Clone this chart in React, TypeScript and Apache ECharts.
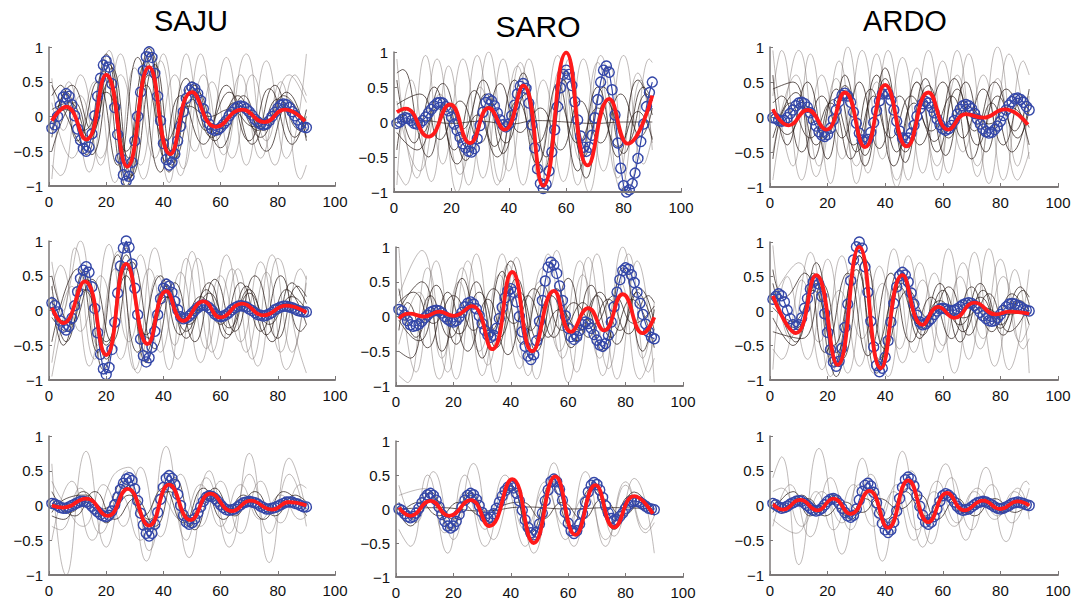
import React, { useEffect, useRef } from "react";
import * as echarts from "echarts";

const TITLES = ["SAJU", "SARO", "ARDO"];
const X_TICKS = [0, 20, 40, 60, 80, 100];
const Y_TICKS = [-1, -0.5, 0, 0.5, 1];

// ---------- blue circles (x = 1..90) ----------
const BLUE_1 = [-0.17,-0.12,0.0,0.16,0.28,0.33,0.29,0.17,0.01,-0.18,-0.34,-0.46,-0.5,-0.44,-0.25,0.01,0.29,0.55,0.74,0.8,0.71,0.47,0.13,-0.26,-0.6,-0.84,-0.93,-0.86,-0.66,-0.35,0.0,0.35,0.66,0.86,0.93,0.85,0.62,0.29,-0.06,-0.39,-0.62,-0.7,-0.66,-0.54,-0.35,-0.14,0.07,0.26,0.38,0.42,0.40,0.33,0.23,0.11,-0.01,-0.11,-0.18,-0.2,-0.19,-0.16,-0.11,-0.06,0.01,0.06,0.11,0.14,0.15,0.14,0.11,0.07,0.02,-0.04,-0.08,-0.11,-0.12,-0.11,-0.06,0.0,0.06,0.12,0.16,0.18,0.17,0.13,0.07,0.01,-0.05,-0.11,-0.15,-0.16];
const BLUE_2 = [-0.02,0.0,0.04,0.06,0.05,0.02,-0.02,-0.03,-0.02,0.02,0.07,0.13,0.18,0.23,0.27,0.28,0.27,0.22,0.16,0.07,-0.03,-0.12,-0.22,-0.31,-0.37,-0.42,-0.43,-0.38,-0.24,-0.05,0.14,0.28,0.33,0.30,0.23,0.13,0.03,-0.04,-0.07,-0.03,0.09,0.24,0.40,0.51,0.55,0.48,0.27,-0.04,-0.37,-0.67,-0.88,-0.95,-0.89,-0.70,-0.43,-0.11,0.22,0.49,0.68,0.74,0.68,0.52,0.29,0.03,-0.2,-0.36,-0.42,-0.36,-0.19,0.06,0.32,0.57,0.74,0.8,0.71,0.46,0.10,-0.30,-0.66,-0.91,-1.0,-0.97,-0.88,-0.73,-0.52,-0.28,-0.03,0.22,0.42,0.57];
const BLUE_3 = [-0.01,-0.02,-0.05,-0.06,-0.05,-0.01,0.05,0.10,0.16,0.20,0.21,0.19,0.14,0.06,-0.04,-0.13,-0.21,-0.26,-0.28,-0.25,-0.16,-0.04,0.10,0.22,0.31,0.34,0.30,0.21,0.07,-0.09,-0.23,-0.33,-0.36,-0.32,-0.22,-0.08,0.09,0.23,0.33,0.37,0.33,0.24,0.10,-0.06,-0.20,-0.30,-0.33,-0.30,-0.23,-0.12,0.01,0.12,0.19,0.22,0.20,0.14,0.06,-0.03,-0.11,-0.17,-0.19,-0.17,-0.12,-0.05,0.04,0.11,0.16,0.18,0.16,0.12,0.05,-0.03,-0.10,-0.17,-0.21,-0.23,-0.22,-0.18,-0.13,-0.06,0.02,0.10,0.17,0.22,0.26,0.27,0.25,0.21,0.15,0.1];
const BLUE_4 = [0.11,0.07,-0.02,-0.15,-0.24,-0.28,-0.23,-0.11,0.07,0.27,0.46,0.58,0.63,0.55,0.34,0.03,-0.32,-0.63,-0.84,-0.92,-0.82,-0.56,-0.17,0.25,0.64,0.90,1.0,0.91,0.67,0.32,-0.06,-0.41,-0.65,-0.74,-0.68,-0.53,-0.30,-0.06,0.17,0.32,0.38,0.35,0.26,0.13,0.01,-0.09,-0.12,-0.11,-0.08,-0.04,0.0,0.04,0.07,0.08,0.07,0.04,0.0,-0.05,-0.08,-0.09,-0.08,-0.06,-0.03,0.01,0.04,0.06,0.07,0.06,0.05,0.02,0.0,-0.03,-0.06,-0.07,-0.08,-0.07,-0.05,-0.03,0.01,0.03,0.05,0.06,0.06,0.05,0.04,0.02,0.0,-0.01,-0.02,-0.02];
const BLUE_5 = [0.1,0.08,0.02,-0.06,-0.12,-0.14,-0.13,-0.11,-0.07,-0.02,0.02,0.06,0.08,0.09,0.08,0.05,0.0,-0.04,-0.07,-0.08,-0.06,-0.01,0.06,0.14,0.19,0.21,0.18,0.11,0.01,-0.10,-0.20,-0.27,-0.3,-0.27,-0.17,-0.03,0.13,0.27,0.37,0.4,0.35,0.21,0.0,-0.22,-0.43,-0.57,-0.62,-0.55,-0.35,-0.07,0.23,0.51,0.71,0.78,0.74,0.62,0.44,0.23,0.01,-0.17,-0.29,-0.33,-0.29,-0.2,-0.12,-0.08,-0.10,-0.17,-0.26,-0.34,-0.41,-0.43,-0.39,-0.27,-0.08,0.14,0.35,0.53,0.66,0.7,0.68,0.60,0.49,0.35,0.19,0.03,-0.11,-0.22,-0.30,-0.32];
const BLUE_6 = [0.17,0.21,0.25,0.22,0.13,0.01,-0.11,-0.20,-0.23,-0.20,-0.10,0.04,0.18,0.32,0.42,0.45,0.39,0.21,-0.04,-0.31,-0.56,-0.74,-0.8,-0.73,-0.54,-0.24,0.1,0.44,0.74,0.93,1.0,0.91,0.64,0.27,-0.15,-0.52,-0.79,-0.88,-0.83,-0.67,-0.43,-0.16,0.11,0.35,0.51,0.56,0.52,0.42,0.26,0.10,-0.06,-0.16,-0.2,-0.19,-0.15,-0.11,-0.05,0.0,0.03,0.04,0.03,0.01,0.0,0.01,0.03,0.06,0.09,0.11,0.12,0.11,0.08,0.04,-0.02,-0.07,-0.11,-0.14,-0.15,-0.14,-0.10,-0.05,0.01,0.06,0.10,0.11,0.10,0.08,0.06,0.03,0.01,0.0];
const BLUE_7 = [0.03,0.02,0.0,-0.03,-0.04,-0.04,-0.02,0.0,0.02,0.04,0.06,0.06,0.05,0.03,-0.01,-0.05,-0.09,-0.13,-0.15,-0.16,-0.14,-0.08,0.01,0.12,0.23,0.32,0.38,0.4,0.36,0.24,0.07,-0.11,-0.28,-0.40,-0.44,-0.40,-0.27,-0.10,0.09,0.26,0.39,0.43,0.39,0.30,0.16,0.0,-0.14,-0.24,-0.27,-0.25,-0.19,-0.11,-0.02,0.06,0.12,0.14,0.13,0.10,0.06,0.01,-0.03,-0.06,-0.07,-0.06,-0.05,-0.02,0.01,0.04,0.05,0.06,0.05,0.04,0.02,-0.01,-0.03,-0.05,-0.05,-0.04,-0.03,-0.01,0.01,0.03,0.05,0.05,0.05,0.03,0.02,0.0,-0.02,-0.02];
const BLUE_8 = [0.0,-0.02,-0.07,-0.11,-0.13,-0.11,-0.06,0.01,0.09,0.16,0.21,0.23,0.20,0.13,0.03,-0.08,-0.18,-0.25,-0.28,-0.25,-0.18,-0.08,0.03,0.13,0.20,0.23,0.21,0.14,0.05,-0.05,-0.12,-0.14,-0.12,-0.07,0.01,0.10,0.19,0.27,0.32,0.34,0.31,0.23,0.12,-0.02,-0.16,-0.27,-0.35,-0.38,-0.34,-0.22,-0.06,0.12,0.28,0.40,0.44,0.40,0.29,0.13,-0.05,-0.21,-0.32,-0.36,-0.32,-0.22,-0.07,0.10,0.25,0.35,0.39,0.36,0.28,0.17,0.05,-0.06,-0.14,-0.17,-0.16,-0.11,-0.06,0.01,0.06,0.11,0.12,0.11,0.10,0.07,0.04,0.01,0.0,-0.01];
const BLUE_9 = [0.03,0.01,-0.02,-0.04,-0.03,-0.01,0.02,0.04,0.06,0.07,0.06,0.03,0.0,-0.04,-0.07,-0.08,-0.07,-0.04,0.01,0.06,0.09,0.1,0.08,0.03,-0.04,-0.10,-0.15,-0.17,-0.14,-0.05,0.08,0.20,0.29,0.32,0.28,0.19,0.04,-0.11,-0.26,-0.35,-0.39,-0.35,-0.24,-0.08,0.10,0.26,0.37,0.41,0.38,0.28,0.14,-0.01,-0.14,-0.24,-0.27,-0.24,-0.16,-0.05,0.06,0.14,0.17,0.15,0.11,0.05,-0.01,-0.05,-0.07,-0.06,-0.05,-0.02,0.01,0.04,0.05,0.06,0.05,0.03,0.01,-0.02,-0.04,-0.05,-0.04,-0.02,0.0,0.03,0.04,0.05,0.04,0.03,0.01,0.0];

// ---------- red mean curves ([x, y] turning points) ----------
const RED_1 = [[1,-0.06],[6,0.14],[13,-0.33],[20,0.6],[27.4,-0.72],[35,0.71],[42.4,-0.54],[50,0.35],[58.4,-0.15],[67.5,0.1],[75.3,-0.08],[82.5,0.1],[89.5,-0.07]];
const RED_2 = [[1,0.14],[4,0.19],[12,-0.21],[19.5,0.25],[26.5,-0.3],[33,0.2],[38.5,-0.11],[45,0.52],[52,-0.91],[60,0.99],[67.5,-0.62],[75,0.33],[81.5,-0.31],[90,0.38]];
const RED_3 = [[1,0.11],[6.5,-0.12],[13,0.1],[19.5,-0.18],[26,0.35],[33,-0.43],[40,0.46],[47.5,-0.42],[55,0.35],[62,-0.18],[68,0.04],[74,-0.01],[81.5,0.11],[89.5,-0.11]];
const RED_4 = [[1,0.04],[5,-0.18],[12.5,0.42],[20,-0.64],[27,0.67],[34.5,-0.48],[41,0.28],[47,-0.15],[54,0.13],[60,-0.1],[67.5,0.1],[75,-0.07],[83,0.07],[90,-0.03]];
const RED_5 = [[1,-0.03],[4.5,0.04],[10,0.0],[15,0.07],[20,0.01],[26.5,0.15],[33.5,-0.47],[40.5,0.64],[47.5,-0.5],[55,0.37],[61,-0.22],[67,0.12],[72.5,-0.2],[79,0.32],[86,-0.24],[90,-0.01]];
const RED_6 = [[1,0.22],[9,-0.32],[16,0.52],[23.5,-0.78],[31,0.93],[38.5,-0.83],[46,0.52],[53,-0.2],[58.5,0.06],[64,-0.1],[71,0.12],[78.5,-0.05],[83,-0.01],[90,-0.04]];
const RED_7 = [[1,0.0],[5,-0.03],[13,0.1],[20.5,-0.15],[27.5,0.24],[35,-0.29],[42,0.3],[49.5,-0.21],[56.5,0.17],[64,-0.08],[70.5,0.07],[78,-0.06],[84,0.05],[90,0.0]];
const RED_8 = [[1,0.02],[5,-0.1],[12,0.12],[18.5,-0.1],[26,0.13],[32.5,-0.25],[40.5,0.44],[48,-0.5],[55.5,0.48],[62.5,-0.38],[69.5,0.35],[76,-0.27],[83,0.19],[89.5,-0.07]];
const RED_9 = [[1,0.02],[4.5,-0.06],[10.5,0.08],[16.5,-0.07],[22,0.1],[28,-0.12],[34.5,0.21],[41,-0.32],[48,0.36],[55,-0.24],[61.5,0.18],[67.5,-0.07],[74,0.07],[80,-0.05],[86,0.06],[90,0.0]];

// ---------- individual traces (turning points) ----------
const DARK_1 = [
  [[1,-0.3],[6,0.35],[13,-0.55],[20,0.9],[27,-1],[35,0.98],[42,-0.8],[50,0.5],[58,-0.35],[66,0.3],[74,-0.3],[82,0.3],[90,-0.2]],
  [[1,0.1],[7,0.2],[14,-0.3],[21,0.5],[28,-0.6],[35,0.6],[43,-0.5],[50,0.25],[57,-0.3],[65,0.2],[73,-0.2],[80,0.25],[88,-0.2],[90,-0.1]],
  [[1,0.3],[4,0.45],[10,-0.35],[17,0.5],[24,-0.7],[31,0.85],[39,-0.8],[46,0.3],[54,-0.4],[62,0.45],[70,-0.35],[77,0.4],[85,-0.4],[90,0.1]],
  [[1,-0.5],[9,0.2],[15,-0.55],[22,0.7],[29,-0.85],[37,0.75],[44,-0.6],[52,0.35],[60,-0.45],[68,0.3],[76,-0.5],[84,0.2],[90,-0.3]],
  [[1,0.0],[6,0.1],[12,-0.2],[20,0.35],[27,-0.5],[34,0.45],[41,-0.35],[49,0.15],[56,0.0],[63,0.1],[72,-0.15],[80,0.1],[90,-0.05]],
  [[1,0.45],[5,0.1],[12,-0.4],[19,0.65],[26,-0.8],[34,0.8],[41,-0.65],[48,0.55],[55,-0.2],[63,0.35],[71,-0.4],[79,0.45],[86,-0.3],[90,0.0]],
  [[1,-0.2],[8,0.45],[15,-0.2],[21,0.75],[28,-0.9],[36,0.9],[43,-0.7],[51,0.45],[59,-0.25],[67,0.15],[75,-0.2],[83,0.35],[90,-0.35]],
];
const LIGHT_1 = [
  [[1,-0.9],[7,0.5],[14,-0.8],[21,0.95],[28,-0.9],[35,1.0],[42,-0.95],[48,0.9],[55,-0.6],[62,0.85],[69,-0.7],[76,0.8],[83,-0.6],[90,0.9]],
  [[1,0.55],[5,-0.2],[11,0.6],[18,-0.7],[25,0.9],[32,-0.7],[39,0.8],[46,-0.85],[53,0.9],[60,-0.8],[67,0.6],[74,-0.6],[81,0.5],[88,-0.9],[90,-0.7]],
  [[1,-0.7],[4,-0.85],[11,0.3],[18,-0.6],[25,0.6],[33,-0.9],[40,0.9],[47,-0.75],[54,0.6],[61,-0.55],[69,0.9],[76,-0.35],[84,0.6],[90,0.2]],
  [[1,0.2],[8,-0.6],[16,0.5],[23,-0.95],[30,0.7],[37,-0.6],[44,0.6],[51,-0.5],[57,0.5],[64,-0.6],[71,0.6],[79,-0.7],[86,0.6],[90,0.3]],
];
const DARK_2 = [
  [[1,0.0],[10,0.02],[20,-0.02],[30,0.01],[40,-0.03],[50,0.02],[60,0.0],[70,-0.02],[80,0.0],[90,0.0]],
  [[1,0.6],[7,-0.3],[14,0.5],[21,-0.4],[28,0.45],[35,-0.35],[42,0.6],[50,-0.6],[57,0.55],[64,-0.7],[71,0.5],[78,-0.5],[85,0.6],[90,0.1]],
  [[1,-0.4],[5,0.2],[12,-0.5],[18,0.3],[25,-0.55],[32,0.4],[39,-0.3],[46,0.4],[53,-0.5],[60,0.7],[67,-0.8],[74,0.3],[81,-0.3],[88,0.4],[90,0.3]],
  [[1,0.25],[9,0.4],[16,-0.25],[23,0.3],[30,-0.3],[37,0.55],[44,-0.15],[51,0.2],[58,-0.4],[65,0.3],[72,-0.3],[79,0.4],[86,-0.2],[90,0.2]],
  [[1,0.7],[3,0.75],[10,-0.15],[17,0.55],[24,-0.1],[31,0.6],[38,-0.45],[45,0.7],[52,-0.7],[59,0.6],[66,-0.5],[73,0.5],[80,-0.45],[87,0.5],[90,0.3]],
  [[1,-0.15],[8,-0.4],[15,0.2],[22,-0.6],[29,0.1],[36,-0.5],[43,0.3],[50,-0.3],[57,0.3],[64,-0.3],[71,0.2],[78,-0.35],[85,0.15],[90,-0.25]],
];
const LIGHT_2 = [
  [[1,-0.9],[6,0.6],[13,-0.85],[19,0.8],[26,-0.9],[33,1.0],[40,-0.7],[47,0.9],[54,-0.95],[61,0.9],[68,-1.0],[75,0.8],[82,-0.9],[89,0.9],[90,0.85]],
  [[1,0.9],[8,-0.8],[15,0.9],[22,-1.0],[29,0.95],[36,-0.9],[43,0.8],[50,-0.6],[57,0.95],[64,-0.9],[71,0.85],[78,-0.8],[85,0.7],[90,-0.3]],
  [[1,-0.7],[4,-0.9],[11,0.95],[17,-0.6],[24,0.9],[31,-0.8],[38,0.9],[45,-0.9],[52,0.6],[59,-0.85],[66,0.9],[73,-0.7],[80,0.95],[87,-0.6],[90,-0.2]],
  [[1,0.3],[9,-0.7],[16,0.4],[23,-0.75],[30,0.5],[37,-0.85],[44,0.85],[51,-0.85],[58,0.75],[65,-0.55],[72,0.95],[79,-0.95],[86,0.6],[90,-0.4]],
];
const DARK_3 = [
  [[1,0.6],[6,-0.4],[13,0.5],[20,-0.6],[26,0.6],[33,-0.7],[40,0.7],[47,-0.65],[54,0.55],[61,-0.55],[68,0.5],[75,-0.5],[82,0.4],[90,-0.4]],
  [[1,-0.3],[9,0.35],[16,-0.4],[23,0.4],[30,-0.5],[37,0.6],[44,-0.5],[51,0.5],[58,-0.5],[65,0.4],[72,-0.4],[79,0.3],[86,-0.3],[90,0.1]],
  [[1,0.2],[4,0.3],[11,-0.5],[18,0.3],[25,-0.3],[31,0.5],[38,-0.45],[45,0.3],[52,-0.4],[60,0.5],[67,-0.3],[74,0.4],[81,-0.4],[88,0.3],[90,0.2]],
  [[1,-0.6],[7,0.2],[14,-0.3],[21,0.2],[28,-0.6],[35,0.4],[42,-0.3],[49,0.3],[56,-0.2],[63,0.3],[70,-0.6],[77,0.2],[84,-0.5],[90,0.2]],
  [[1,0.1],[6,-0.25],[13,0.15],[19,-0.3],[26,0.45],[33,-0.55],[40,0.55],[47,-0.5],[55,0.45],[62,-0.3],[69,0.15],[76,-0.1],[83,0.15],[90,-0.15]],
  [[1,0.4],[8,0.5],[15,-0.6],[22,0.25],[29,-0.4],[36,0.3],[43,-0.7],[50,0.2],[57,-0.35],[64,0.55],[71,-0.2],[78,0.5],[85,-0.2],[90,0.4]],
];
const LIGHT_3 = [
  [[1,0.95],[8,-0.7],[14,0.9],[21,-0.95],[27,1.0],[34,-0.8],[41,0.95],[48,-0.9],[55,0.95],[62,-0.8],[69,0.9],[76,-0.95],[83,0.9],[90,-0.6]],
  [[1,-0.9],[5,0.1],[10,0.95],[17,-0.7],[24,0.8],[30,-0.95],[37,0.9],[44,-1.0],[51,0.7],[58,-0.9],[65,0.95],[72,-0.85],[79,1.0],[86,-0.7],[90,0.3]],
  [[1,0.3],[4,0.95],[11,-0.9],[18,0.6],[25,-0.6],[32,0.95],[39,-0.6],[46,0.85],[53,-0.8],[60,0.8],[67,-0.5],[74,0.6],[81,-0.9],[88,0.8],[90,0.6]],
  [[1,-0.5],[9,0.6],[16,-0.85],[23,0.55],[30,-0.7],[37,0.5],[44,-0.9],[51,0.5],[58,-0.7],[65,0.6],[72,-0.7],[79,0.55],[86,-0.9],[90,-0.5]],
];
const DARK_4 = [
  [[1,0.2],[5,-0.5],[12,0.55],[19,-0.85],[27,0.9],[34,-0.75],[41,0.35],[48,-0.3],[55,0.3],[62,-0.4],[69,0.35],[76,-0.35],[83,0.3],[90,-0.2]],
  [[1,-0.1],[6,-0.3],[13,0.3],[20,-0.5],[27,0.6],[35,-0.4],[42,0.2],[49,-0.2],[56,0.25],[63,-0.25],[70,0.3],[77,-0.2],[85,0.2],[90,0.0]],
  [[1,0.5],[8,-0.2],[15,0.45],[22,-0.45],[29,0.7],[37,-0.55],[44,0.4],[51,-0.45],[58,0.45],[65,-0.3],[72,0.5],[80,-0.4],[87,0.35],[90,0.2]],
  [[1,-0.45],[10,0.6],[17,-0.6],[24,0.8],[31,-0.6],[39,0.5],[46,-0.35],[53,0.2],[60,-0.2],[67,0.4],[74,-0.3],[81,0.5],[88,-0.3],[90,-0.2]],
  [[1,0.05],[5,-0.15],[12,0.3],[20,-0.45],[27,0.5],[34,-0.35],[41,0.2],[48,-0.1],[55,0.05],[62,-0.1],[69,0.1],[76,-0.05],[83,0.1],[90,-0.05]],
  [[1,0.35],[6,-0.45],[13,0.45],[20,-0.7],[27,0.8],[34,-0.6],[41,0.45],[48,-0.4],[56,0.4],[63,-0.35],[70,0.25],[78,-0.45],[85,0.4],[90,0.1]],
];
const LIGHT_4 = [
  [[1,-0.95],[7,0.3],[11,1.0],[17,-0.5],[24,0.85],[31,-0.9],[38,0.5],[45,-0.7],[52,0.75],[59,-0.7],[66,0.6],[73,-0.8],[80,0.75],[87,-0.5],[90,-0.9]],
  [[1,0.7],[5,0.0],[9,0.9],[16,-0.7],[23,0.6],[30,-0.85],[37,0.9],[44,-0.5],[50,0.85],[57,-0.6],[64,0.6],[71,-0.7],[78,0.8],[85,-0.6],[90,0.5]],
  [[1,-0.75],[8,0.35],[14,-0.8],[21,0.95],[28,-0.45],[35,0.6],[42,-0.85],[48,0.75],[55,-0.55],[62,0.8],[69,-0.6],[76,0.55],[83,-0.85],[90,0.4]],
  [[1,0.3],[4,0.65],[11,-0.3],[18,0.5],[25,-0.7],[32,0.8],[39,-0.6],[46,0.55],[53,-0.75],[60,0.5],[67,-0.45],[74,0.7],[81,-0.6],[88,0.6],[90,0.45]],
];
const DARK_5 = [
  [[1,0.4],[7,-0.3],[14,0.45],[21,-0.4],[28,0.5],[35,-0.45],[42,0.55],[49,-0.5],[56,0.4],[63,-0.35],[70,0.3],[77,-0.4],[84,0.35],[90,-0.2]],
  [[1,-0.5],[5,-0.6],[12,0.3],[19,-0.3],[26,0.2],[33,-0.2],[40,0.8],[47,-0.2],[54,0.3],[61,-0.45],[68,0.45],[75,-0.3],[82,0.25],[90,-0.45]],
  [[1,0.1],[9,0.5],[16,-0.5],[23,0.55],[30,-0.6],[37,0.65],[44,-0.4],[51,0.45],[58,-0.2],[65,0.2],[72,-0.5],[79,0.7],[86,-0.5],[90,0.1]],
  [[1,-0.2],[4,0.2],[11,-0.45],[18,0.35],[25,-0.5],[32,0.25],[39,-0.55],[46,0.3],[53,-0.3],[60,0.55],[67,-0.3],[74,0.25],[81,-0.25],[88,0.3],[90,0.2]],
  [[1,0.2],[6,0.35],[13,-0.1],[20,0.3],[27,-0.2],[34,0.4],[41,-0.1],[48,0.4],[55,-0.3],[62,0.2],[69,-0.1],[76,0.3],[83,-0.1],[90,0.15]],
  [[1,-0.05],[8,-0.35],[15,0.15],[22,-0.25],[29,0.35],[36,-0.3],[43,0.35],[50,-0.35],[57,0.1],[64,-0.2],[71,0.35],[78,-0.2],[85,0.4],[90,-0.1]],
];
const LIGHT_5 = [
  [[1,1.0],[7,-0.8],[14,0.8],[21,-0.9],[28,0.9],[35,-0.95],[42,0.85],[49,-0.9],[56,0.95],[63,-0.8],[70,0.9],[77,-0.9],[84,0.8],[90,-0.95]],
  [[1,-0.85],[4,-0.95],[11,0.7],[18,-0.8],[25,0.8],[32,-0.7],[39,0.75],[46,-0.85],[53,0.9],[60,-0.95],[67,0.85],[74,-0.75],[81,0.9],[88,-0.8],[90,-0.6]],
  [[1,0.3],[9,0.95],[16,-0.6],[23,0.7],[30,-0.85],[37,0.9],[44,-0.6],[51,0.7],[58,-0.6],[65,0.6],[72,-0.85],[79,1.0],[86,-0.6],[90,0.2]],
  [[1,-0.4],[8,0.35],[15,-0.9],[22,0.5],[29,-0.5],[36,0.6],[43,-0.75],[50,0.5],[57,-0.5],[64,0.8],[71,-0.6],[78,0.5],[85,-0.9],[90,-0.3]],
];
const DARK_6 = [
  [[1,0.4],[9,-0.45],[16,0.7],[23,-0.95],[31,0.8],[38,-0.7],[46,0.4],[53,-0.35],[60,0.3],[67,-0.3],[74,0.3],[81,-0.35],[88,0.3],[90,0.2]],
  [[1,0.05],[8,-0.15],[15,0.3],[22,-0.5],[30,0.6],[37,-0.5],[45,0.35],[52,-0.2],[59,0.15],[66,-0.2],[73,0.2],[80,-0.2],[87,0.15],[90,0.0]],
  [[1,0.6],[5,0.2],[12,0.55],[19,-0.6],[27,0.55],[34,-0.65],[42,0.55],[49,-0.45],[56,0.2],[63,-0.4],[70,0.35],[77,-0.3],[84,0.25],[90,-0.2]],
  [[1,-0.3],[11,-0.4],[18,0.4],[25,-0.7],[33,0.75],[40,-0.55],[48,0.3],[55,-0.1],[62,0.35],[69,-0.35],[76,0.25],[83,-0.3],[90,0.1]],
  [[1,0.15],[9,-0.25],[16,0.4],[23,-0.6],[31,0.8],[38,-0.75],[46,0.45],[53,-0.25],[60,0.1],[67,-0.1],[74,0.05],[81,-0.05],[90,0.0]],
  [[1,-0.1],[8,-0.5],[15,0.55],[22,-0.8],[30,0.7],[37,-0.9],[45,0.6],[52,-0.4],[59,0.4],[66,-0.45],[73,0.4],[80,-0.25],[87,0.35],[90,0.1]],
];
const LIGHT_6 = [
  [[1,0.95],[7,-0.4],[14,0.85],[21,-0.95],[28,0.6],[36,-0.9],[43,0.9],[50,-0.6],[57,0.55],[64,-0.9],[71,0.85],[78,-0.8],[85,0.6],[90,-0.9]],
  [[1,-0.85],[6,0.5],[13,-0.7],[20,0.75],[27,-0.9],[34,0.55],[41,-0.95],[48,0.8],[55,-0.75],[62,0.9],[69,-0.7],[76,0.9],[83,-0.85],[90,0.6]],
  [[1,0.2],[10,0.7],[17,-0.45],[24,0.3],[31,-0.8],[38,0.65],[45,-0.55],[52,0.7],[59,-0.6],[66,0.5],[73,-0.55],[80,0.75],[87,-0.45],[90,-0.2]],
  [[1,-0.55],[4,-0.7],[11,0.45],[18,-0.85],[25,0.8],[32,-0.4],[39,0.4],[46,-0.75],[53,0.45],[60,-0.5],[67,0.7],[74,-0.4],[81,0.5],[88,-0.55],[90,-0.4]],
];
const DARK_7 = [
  [[1,-0.1],[6,0.1],[13,0.15],[20,-0.25],[27,0.3],[35,-0.35],[42,0.35],[49,-0.3],[56,0.2],[63,-0.1],[70,0.1],[77,-0.1],[84,0.1],[90,-0.05]],
  [[1,0.1],[7,-0.1],[14,0.05],[21,-0.1],[28,0.15],[35,-0.2],[42,0.2],[49,-0.15],[56,0.1],[63,-0.05],[70,0.05],[77,-0.05],[84,0.05],[90,0.0]],
  [[1,-0.15],[5,-0.2],[12,0.2],[19,-0.05],[26,0.35],[33,-0.15],[40,0.25],[47,-0.25],[54,0.25],[61,-0.2],[68,0.15],[75,-0.2],[82,0.2],[90,-0.15]],
  [[1,0.2],[9,-0.15],[16,0.2],[23,-0.2],[30,0.1],[37,-0.3],[44,0.4],[51,-0.35],[58,0.25],[65,-0.15],[72,0.2],[79,-0.15],[86,0.15],[90,0.05]],
];
const LIGHT_7 = [
  [[1,0.6],[6,-1.0],[13,0.78],[20,-0.6],[27,0.5],[34,-0.8],[41,0.85],[48,-0.5],[55,0.4],[63,-0.6],[70,0.75],[77,-0.82],[84,0.68],[90,-0.1]],
  [[1,-0.5],[8,0.35],[15,-0.5],[22,0.4],[28,0.55],[35,-0.65],[42,0.5],[49,-0.75],[56,0.5],[63,-0.4],[70,0.45],[77,-0.4],[84,0.45],[90,-0.3]],
  [[1,0.35],[5,0.05],[12,-0.3],[19,0.3],[26,-0.3],[32,0.55],[39,-0.45],[46,0.45],[53,-0.3],[60,0.35],[67,-0.4],[74,0.35],[81,-0.25],[88,0.3],[90,0.25]],
  [[1,-0.3],[4,-0.35],[11,0.25],[18,-0.4],[25,0.15],[32,-0.5],[39,0.15],[46,-0.2],[53,0.3],[60,-0.3],[67,0.3],[74,-0.2],[81,0.15],[88,-0.2],[90,-0.15]],
];
const DARK_8 = [
  [[1,0.0],[15,0.02],[30,-0.03],[45,0.03],[60,0.0],[75,0.02],[90,0.0]],
  [[1,0.1],[6,-0.15],[13,0.15],[20,-0.15],[26,0.2],[33,-0.2],[40,0.3],[47,-0.35],[54,0.35],[61,-0.25],[68,0.3],[75,-0.2],[82,0.2],[90,-0.05]],
  [[1,-0.1],[8,0.1],[15,-0.1],[22,0.1],[30,-0.1],[37,0.05],[44,0.1],[51,-0.15],[58,0.1],[65,-0.15],[72,0.15],[79,-0.1],[86,0.1],[90,0.0]],
  [[1,-0.05],[5,-0.25],[12,0.25],[19,-0.3],[26,0.25],[33,-0.2],[40,0.35],[47,-0.45],[55,0.4],[62,-0.35],[69,0.3],[76,-0.3],[83,0.25],[90,-0.1]],
];
const LIGHT_8 = [
  [[1,0.35],[7,-0.2],[13,0.55],[20,-0.45],[27,0.67],[34,-0.45],[41,0.3],[48,-0.65],[55,0.68],[62,-0.55],[69,0.4],[76,-0.4],[83,0.45],[90,-0.65]],
  [[1,-0.3],[5,-0.55],[11,0.5],[18,-0.65],[24,0.5],[31,-0.3],[38,0.5],[45,-0.3],[52,0.3],[59,-0.45],[66,0.55],[73,-0.55],[80,0.4],[87,-0.3],[90,-0.1]],
  [[1,0.2],[10,0.3],[17,-0.35],[24,0.25],[31,-0.55],[38,0.35],[45,-0.55],[52,0.4],[59,-0.25],[66,0.2],[73,-0.45],[80,0.35],[87,-0.35],[90,-0.2]],
];
const DARK_9 = [
  [[1,0.05],[5,-0.1],[11,0.15],[17,-0.1],[22,0.15],[28,-0.2],[35,0.25],[41,-0.25],[48,0.25],[55,-0.2],[62,0.15],[68,-0.1],[75,0.1],[81,-0.1],[87,0.08],[90,0.0]],
  [[1,-0.1],[8,0.2],[14,-0.15],[20,0.05],[27,-0.15],[33,0.1],[40,-0.2],[47,0.2],[54,-0.15],[60,0.1],[67,-0.1],[73,0.05],[80,-0.1],[86,0.05],[90,0.0]],
  [[1,0.1],[6,0.0],[13,0.1],[19,-0.15],[26,0.05],[32,-0.1],[38,0.1],[45,-0.05],[52,0.15],[58,-0.2],[65,0.1],[71,-0.15],[78,0.1],[85,-0.1],[90,0.05]],
];
const LIGHT_9 = [
  [[1,0.4],[4,0.7],[10,-0.85],[17,0.82],[25,-0.7],[32,0.68],[39,-0.8],[46,0.78],[53,-0.6],[61,0.6],[68,-0.5],[75,0.55],[82,-0.52],[89,0.35],[90,0.3]],
  [[1,-0.3],[7,0.3],[14,-0.45],[21,0.4],[28,-0.35],[35,0.45],[42,-0.4],[49,0.5],[56,-0.55],[63,0.4],[70,-0.35],[77,0.3],[84,-0.25],[90,0.25]],
  [[1,0.2],[4,0.25],[11,-0.3],[18,0.2],[25,-0.25],[31,0.3],[38,-0.2],[44,0.3],[51,-0.35],[58,0.35],[65,-0.25],[72,0.25],[79,-0.15],[86,0.25],[90,-0.2]],
  [[1,-0.2],[9,-0.4],[16,0.2],[22,-0.35],[29,0.3],[36,-0.3],[43,0.2],[50,-0.5],[57,0.2],[64,-0.3],[71,0.2],[78,-0.2],[85,0.2],[90,-0.1]],
];

const BLUES = [BLUE_1, BLUE_2, BLUE_3, BLUE_4, BLUE_5, BLUE_6, BLUE_7, BLUE_8, BLUE_9];
const REDS = [RED_1, RED_2, RED_3, RED_4, RED_5, RED_6, RED_7, RED_8, RED_9];
const DARKS = [DARK_1, DARK_2, DARK_3, DARK_4, DARK_5, DARK_6, DARK_7, DARK_8, DARK_9];
const LIGHTS = [LIGHT_1, LIGHT_2, LIGHT_3, LIGHT_4, LIGHT_5, LIGHT_6, LIGHT_7, LIGHT_8, LIGHT_9];

// panel boxes (pixels): [left, top, width, height]
const BOXES = [
  [49, 47, 286, 139], [394, 52, 287, 140], [770, 47, 288, 140],
  [49, 241, 286, 139], [396, 247, 287, 139], [770, 242, 288, 138],
  [49, 436, 286, 139], [396, 441, 287, 140], [770, 436, 288, 139],
];

const FONT = "'Liberation Sans', Arial, Helvetica, sans-serif";
const AXIS_COLOR = "#7c7878";

export default function App() {
  const ref = useRef<HTMLDivElement>(null);
  useEffect(() => {
    document.body.style.margin = "0";
    if (!ref.current) return;
    const chart = echarts.init(ref.current, null, { renderer: "svg" });
    const grid: any[] = [];
    const xAxis: any[] = [];
    const yAxis: any[] = [];
    const series: any[] = [];
    BOXES.forEach((b, i) => {
      grid.push({ left: b[0], top: b[1], width: b[2], height: b[3], containLabel: false });
      const mkLabel = (m: number) => ({ color: "#111", fontSize: 15, fontFamily: FONT, margin: m,
        formatter: (v: number) => (v < 0 ? "\u2212" + Math.abs(v) : String(v)) });
      xAxis.push({ type: "value", gridIndex: i, position: "bottom", min: X_TICKS[0], max: X_TICKS[X_TICKS.length - 1],
        interval: 20, axisLine: { show: true, onZero: false, lineStyle: { color: AXIS_COLOR, width: 2 } },
        axisTick: { show: true, inside: true, length: 4, lineStyle: { color: AXIS_COLOR, width: 1 } },
        axisLabel: mkLabel(8), splitLine: { show: false }, z: 10 });
      yAxis.push({ type: "value", gridIndex: i, position: "left", min: Y_TICKS[0], max: Y_TICKS[Y_TICKS.length - 1],
        interval: 0.5, axisLine: { show: true, onZero: false, lineStyle: { color: AXIS_COLOR, width: 1.5 } },
        axisTick: { show: true, inside: true, length: 3, lineStyle: { color: AXIS_COLOR, width: 1 } },
        axisLabel: mkLabel(6), splitLine: { show: false }, z: 10 });
      LIGHTS[i].forEach((pts) => series.push({ type: "line", xAxisIndex: i, yAxisIndex: i, data: pts, smooth: 0.5,
        showSymbol: false, silent: true, z: 1, lineStyle: { color: "rgba(120,110,108,0.6)", width: 0.8 } }));
      DARKS[i].forEach((pts) => series.push({ type: "line", xAxisIndex: i, yAxisIndex: i, data: pts, smooth: 0.5,
        showSymbol: false, silent: true, z: 2, lineStyle: { color: "rgba(40,26,22,0.8)", width: 0.9 } }));
      series.push({ type: "line", xAxisIndex: i, yAxisIndex: i, data: BLUES[i].map((y, k) => [k + 1, y]),
        symbol: "circle", symbolSize: 10, showSymbol: true, showAllSymbol: true, z: 3, silent: true,
        lineStyle: { color: "#3447a8", width: 1.2 },
        itemStyle: { color: "rgba(0,0,0,0)", borderColor: "#3447a8", borderWidth: 1.4 } });
      series.push({ type: "line", xAxisIndex: i, yAxisIndex: i, data: REDS[i], smooth: 0.5, showSymbol: false,
        silent: true, z: 4, lineStyle: { color: "#ff1a1a", width: 3.8 } });
    });
    const titlePos = [[191, 21, 29], [538, 26, 30], [905, 21, 29]];
    const graphic: any[] = TITLES.map((t, i) => ({
      type: "text", x: titlePos[i][0], y: titlePos[i][1],
      style: { text: t, fontSize: titlePos[i][2], fontFamily: FONT, fill: "#000", textAlign: "center", textVerticalAlign: "middle" },
    }));
    chart.setOption({ animation: false, backgroundColor: "#fff", grid, xAxis, yAxis, series, graphic });
    return () => chart.dispose();
  }, []);
  return <div ref={ref} style={{ width: 1084, height: 600 }} />;
}
